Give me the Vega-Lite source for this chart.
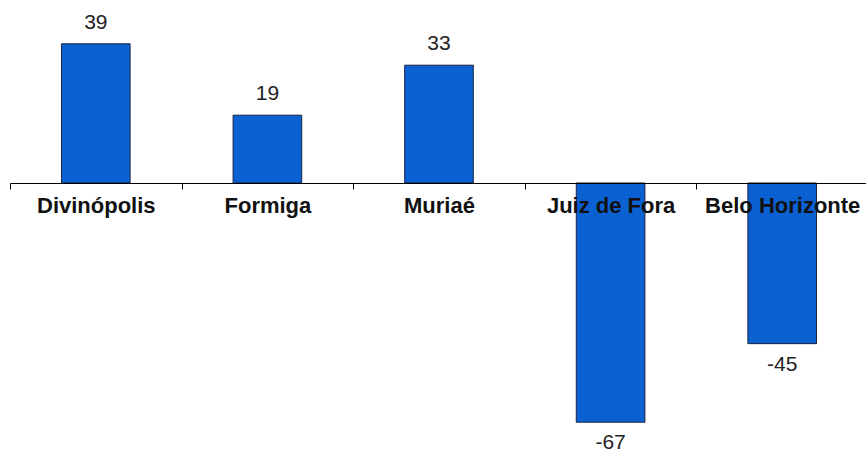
{
  "$schema": "https://vega.github.io/schema/vega-lite/v6.json",
  "width": 858,
  "height": 452,
  "autosize": {"type": "none"},
  "padding": {"left": 10, "top": 0, "right": 0, "bottom": 0},
  "background": "white",
  "config": {"view": {"stroke": null}},
  "data": {
    "values": [
      {"cidade": "Divinópolis", "valor": 39},
      {"cidade": "Formiga", "valor": 19},
      {"cidade": "Muriaé", "valor": 33},
      {"cidade": "Juiz de Fora", "valor": -67},
      {"cidade": "Belo Horizonte", "valor": -45}
    ]
  },
  "encoding": {
    "x": {
      "field": "cidade",
      "type": "nominal",
      "sort": null,
      "scale": {"paddingInner": 0.6, "paddingOuter": 0.3},
      "axis": {
        "title": null,
        "orient": "bottom",
        "offset": -269,
        "zindex": 1,
        "domainColor": "#000000",
        "domainWidth": 1,
        "ticks": true,
        "tickColor": "#000000",
        "tickWidth": 1,
        "tickSize": 6,
        "tickBand": "center",
        "tickOffset": -85.8,
        "labelOffset": 85.8,
        "labelAngle": 0,
        "labelFont": "Liberation Sans",
        "labelFontWeight": "bold",
        "labelFontSize": 22,
        "labelColor": "#111111",
        "labelPadding": 6,
        "labelOverlap": false,
        "labelLimit": 0
      }
    },
    "y": {
      "field": "valor",
      "type": "quantitative",
      "scale": {"domain": [-75.35, 51.26], "nice": false, "zero": true},
      "axis": null
    }
  },
  "layer": [
    {
      "mark": {"type": "bar", "color": "#0b60d2", "stroke": "#1a2440", "strokeWidth": 1}
    },
    {
      "transform": [{"filter": "datum.valor > 0"}],
      "mark": {"type": "text", "baseline": "alphabetic", "dy": -15, "font": "Liberation Sans", "fontSize": 21, "color": "#222222"},
      "encoding": {"text": {"field": "valor", "type": "nominal"}}
    },
    {
      "transform": [{"filter": "datum.valor < 0"}],
      "mark": {"type": "text", "baseline": "alphabetic", "dy": 27, "font": "Liberation Sans", "fontSize": 21, "color": "#222222"},
      "encoding": {"text": {"field": "valor", "type": "nominal"}}
    }
  ]
}
